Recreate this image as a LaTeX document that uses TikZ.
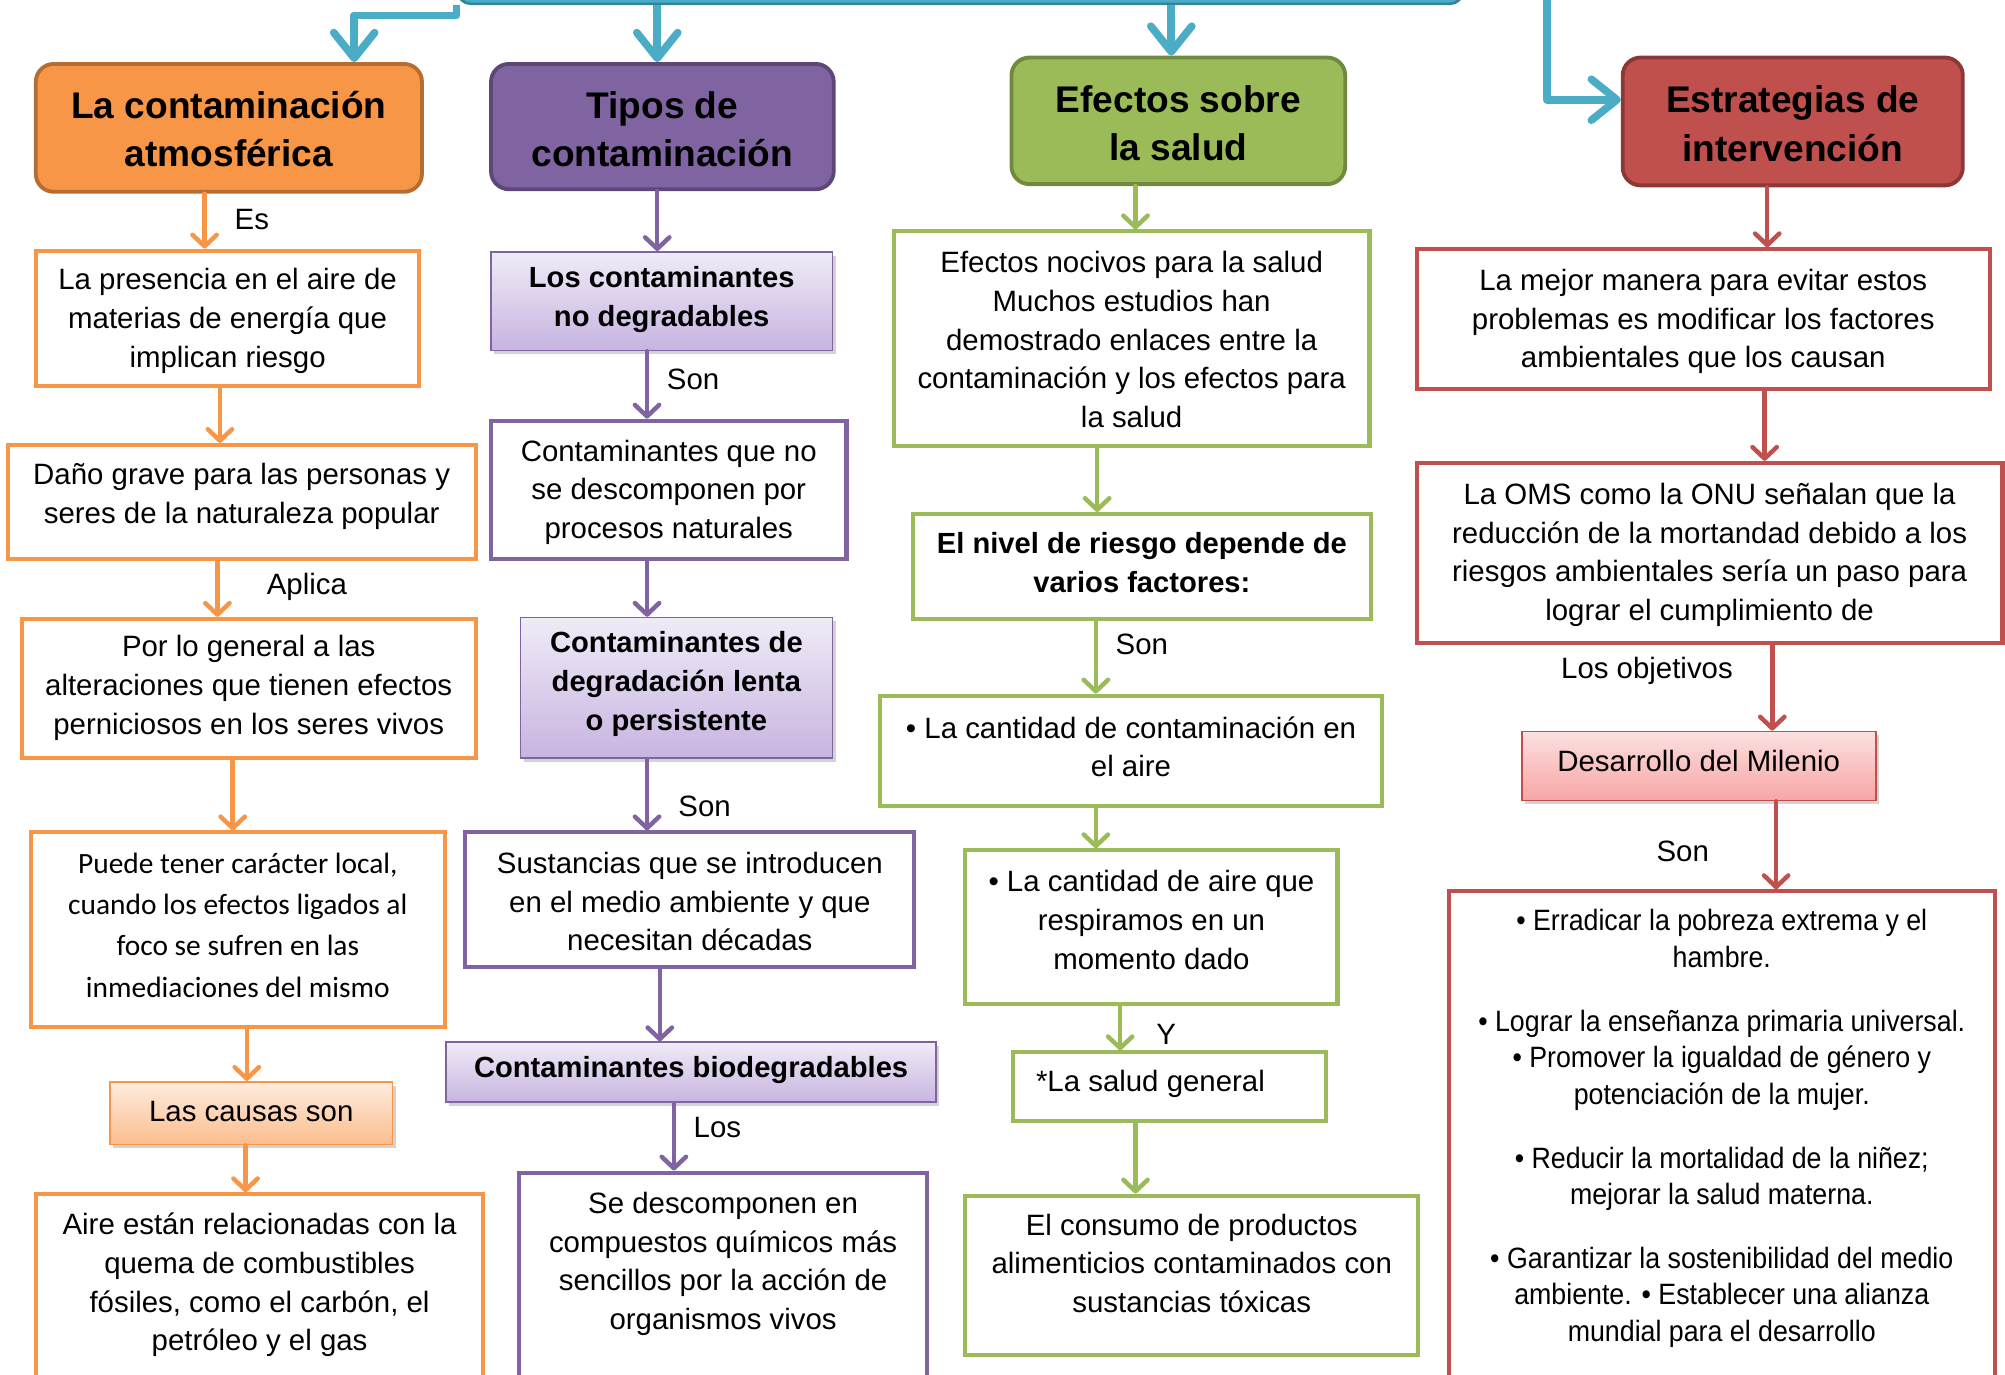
\documentclass[tikz,border=0pt]{standalone}
\usepackage{fontspec}
\setmainfont{Liberation Sans}
\newfontfamily\calibrifont{Carlito}
\newfontfamily\narrowfont[FakeStretch=0.91]{Liberation Sans}
\usepackage{tikz}
\usetikzlibrary{calc,arrows.meta,shadows}

\definecolor{corange}{HTML}{F79646}
\definecolor{cdorange}{HTML}{B66D31}
\definecolor{cpurple}{HTML}{8064A2}
\definecolor{cdpurple}{HTML}{5C4776}
\definecolor{cgreen}{HTML}{9BBB59}
\definecolor{cdgreen}{HTML}{71893F}
\definecolor{cred}{HTML}{C0504D}
\definecolor{cdred}{HTML}{8C3836}
\definecolor{cfeed}{HTML}{4BACC6}
\definecolor{cdfeed}{HTML}{31849B}
\definecolor{otop}{HTML}{FEECDF}
\definecolor{obot}{HTML}{FBBD8C}
\definecolor{ptop}{HTML}{F0EBF7}
\definecolor{pbot}{HTML}{C7B4E0}
\definecolor{rtop}{HTML}{FCE0E0}
\definecolor{rbot}{HTML}{F7A5A4}

\tikzset{
  framebox/.style={draw=#1, line width=3.2, fill=white},
  headbox/.style 2 args={draw=#2, fill=#1, line width=3, rounded corners=14},
  tintbox/.style n args={3}{draw=#3, line width=1.3, top color=#1, bottom color=#2,
    drop shadow={opacity=0.35, shadow xshift=2.5pt, shadow yshift=-3pt}},
  boxtext/.style={align=center, inner sep=0pt, font=\fontsize{23}{30.3}\selectfont},
  headtext/.style={font=\bfseries\fontsize{29}{38}\selectfont},
  boldtext/.style={font=\bfseries\fontsize{22.8}{30.5}\selectfont},
  linktext/.style={inner sep=0pt, font=\fontsize{23}{28}\selectfont},
  linkarrow/.style={draw=#1, line width=3.5, line cap=round,
    -{Straight Barb[length=9pt, width=19pt, round]}},
  feedarrow/.style={draw=cfeed, line width=6, line join=round,
    -{Straight Barb[length=20pt, width=32pt, round]}},
}

\newcommand*{\MapBox}[9][]{% #1 = text options, #2 = name, #3/#4 = top left, #5/#6 = bottom right, #7 = box style, #8 = text y, #9 = text
\node [#7, minimum width={#5-#3}, minimum height={#6-#4}] (#2) at ({(#3+#5)/2},{(#4+#6)/2}) {};
\node [boxtext, #1] (#2-text) at ({(#3+#5)/2},#8) {#9};
}

\begin{document}
\begin{tikzpicture}[x=1pt,y=-1pt]
\useasboundingbox (0,0) rectangle (1568,1075);
\clip (0,0) rectangle (1568,1075);

% top
\node [draw=cdfeed, fill=cfeed, line width=2, rounded corners=10,
  minimum width=786, minimum height=60] (topbox) at (751,-27) {};

% contaminacion atmosferica
\MapBox[headtext]{o0}{28}{50}{330}{150}{headbox={corange}{cdorange}}{101}{La contaminación\\atmosférica}
\MapBox{o1}{28}{196}{328}{302}{framebox=corange}{251}{La presencia en el aire de\\materias de energía que\\implican riesgo}
\MapBox{o2}{6}{348}{372}{437}{framebox=corange}{388}{Daño grave para las personas y\\seres de la naturaleza popular}
\MapBox{o3}{17}{484}{372}{593}{framebox=corange}{538}{Por lo general a las\\alteraciones que tienen efectos\\perniciosos en los seres vivos}
\MapBox[font=\calibrifont\fontsize{23}{32.3}\selectfont]{o4}{24}{651}{348}{803}{framebox=corange}{723.5}{Puede tener carácter local,\\cuando los efectos ligados al\\foco se sufren en las\\inmediaciones del mismo}
\MapBox{o5}{86}{846}{307}{895}{tintbox={otop}{obot}{corange}}{869}{Las causas son}
\MapBox{o6}{28}{934}{378}{1095}{framebox=corange}{1005}{Aire están relacionadas con la\\quema de combustibles\\fósiles, como el carbón, el\\petróleo y el gas}

% tipos
\MapBox[headtext]{p0}{384}{50}{652}{148}{headbox={cpurple}{cdpurple}}{101}{Tipos de\\contaminación}
\MapBox[boldtext]{p1}{384}{197}{651}{274}{tintbox={ptop}{pbot}{cpurple}}{234}{Los contaminantes\\no degradables}
\MapBox{p2}{384}{329}{662}{437}{framebox=cpurple}{385}{Contaminantes que no\\se descomponen por\\procesos naturales}
\MapBox[boldtext]{p3}{407}{483}{651}{593}{tintbox={ptop}{pbot}{cpurple}}{535}{Contaminantes de\\degradación lenta\\o persistente}
\MapBox{p4}{364}{651}{715}{756}{framebox=cpurple}{705}{Sustancias que se introducen\\en el medio ambiente y que\\necesitan décadas}
\MapBox[boldtext]{p5}{349}{815}{732}{862}{tintbox={ptop}{pbot}{cpurple}}{837}{Contaminantes biodegradables}
\MapBox{p6}{406}{917}{725}{1095}{framebox=cpurple}{988.5}{Se descomponen en\\compuestos químicos más\\sencillos por la acción de\\organismos vivos}

% salud
\MapBox[headtext]{g0}{791}{45}{1052}{144}{headbox={cgreen}{cdgreen}}{96.5}{Efectos sobre\\la salud}
\MapBox{g1}{699}{181}{1071}{349}{framebox=cgreen}{265.5}{Efectos nocivos para la salud\\Muchos estudios han\\demostrado enlaces entre la\\contaminación y los efectos para\\la salud}
\MapBox[boldtext]{g2}{714}{402}{1072}{484}{framebox=cgreen}{440}{El nivel de riesgo depende de\\varios factores:}
\MapBox{g3}{688}{544}{1081}{630}{framebox=cgreen}{584}{• La cantidad de contaminación en\\el aire}
\MapBox{g4}{755}{665}{1046}{785}{framebox=cgreen}{719.5}{• La cantidad de aire que\\respiramos en un\\momento dado}
\MapBox[anchor=west, xshift=-104.5]{g5}{792}{823}{1037}{877}{framebox=cgreen}{848}{*La salud general}
\MapBox{g6}{755}{935}{1109}{1060}{framebox=cgreen}{988}{El consumo de productos\\alimenticios contaminados con\\sustancias tóxicas}

% estrategias
\MapBox[headtext]{r0}{1269}{45}{1535}{145}{headbox={cred}{cdred}}{97}{Estrategias de\\intervención}
\MapBox{r1}{1108}{195}{1556}{304}{framebox=cred}{251.5}{La mejor manera para evitar estos\\problemas es modificar los factores\\ambientales que los causan}
\MapBox{r2}{1108}{362}{1566}{503}{framebox=cred}{434}{La OMS como la ONU señalan que la\\reducción de la mortandad debido a los\\riesgos ambientales sería un paso para\\lograr el cumplimiento de}
\MapBox{r3}{1190}{572}{1467}{626}{tintbox={rtop}{rbot}{cred}}{595}{Desarrollo del Milenio}
\MapBox[font=\narrowfont\fontsize{23}{28.5}\selectfont]{r4}{1133}{697}{1560}{1095}{framebox=cred}{882.5}{• Erradicar la pobreza extrema y el\\hambre.\\[21.5pt]• Lograr la enseñanza primaria universal.\\• Promover la igualdad de género y\\potenciación de la mujer.\\[21.5pt]• Reducir la mortalidad de la niñez;\\mejorar la salud materna.\\[21.5pt]• Garantizar la sostenibilidad del medio\\ambiente. • Establecer una alianza\\mundial para el desarrollo}

% connectors
\foreach \src/\dst/\px/\col in {o0/o1/160/corange, o1/o2/172/corange, o2/o3/170/corange,
  o3/o4/182/corange, o4/o5/193/corange, o5/o6/192/corange,
  p0/p1/514/cpurple, p1/p2/506/cpurple, p2/p3/506/cpurple, p3/p4/506/cpurple,
  p4/p5/516/cpurple, p5/p6/527/cpurple,
  g0/g1/888/cgreen, g1/g2/858/cgreen, g2/g3/857/cgreen, g3/g4/857/cgreen,
  g4/g5/876/cgreen, g5/g6/888/cgreen,
  r0/r1/1382/cred, r1/r2/1380/cred, r2/r3/1386/cred, r3/r4/1389/cred}
  \draw [linkarrow=\col] let \p1=(\src.south), \p2=(\dst.north) in (\px pt,\y1) -- (\px pt,\y2);

\foreach \lx/\ly/\lt [count=\i] in {197/172/Es, 240/459/Aplica, 542/297/Son, 551/631/Son,
  561/882/Los, 893/504/Son, 912/809/Y, 1288/525/Los objetivos, 1316/666/Son}
  \node [linktext] (tag\i) at (\lx,\ly) {\lt};

% feeds from the top
\draw [feedarrow] (topbox.south west) -- ++(0,8) -| ([xshift=98]o0.north);
\foreach \dst/\px in {p0/514, g0/916}
  \draw [feedarrow] let \p1=(topbox.south), \p2=(\dst.north) in (\px pt,\y1) -- (\px pt,\y2);
\coordinate (feedtop) at (1210,-5);
\draw [feedarrow] (feedtop) |- ([yshift=17]r0.west);

\end{tikzpicture}
\end{document}
